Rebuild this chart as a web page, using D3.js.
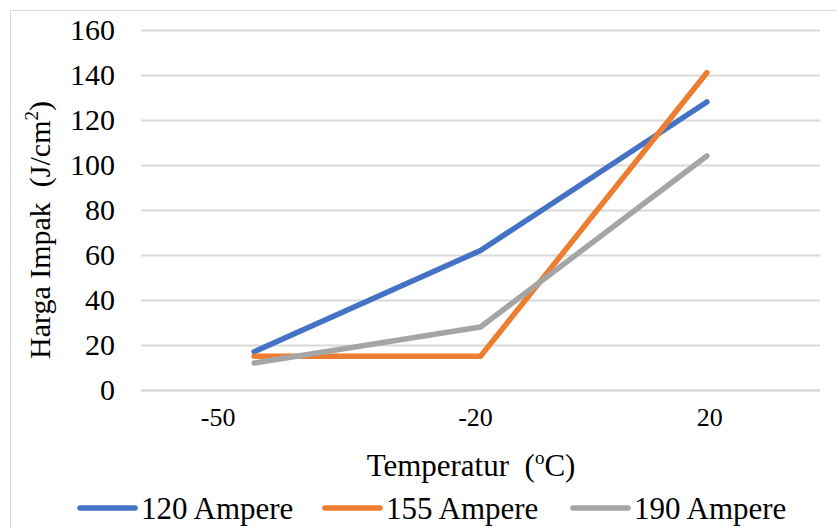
<!DOCTYPE html>
<html>
<head>
<meta charset="utf-8">
<script src="https://cdn.jsdelivr.net/npm/d3@7"></script>
<style>
  body { margin: 0; background: #fff; }
  text { font-family: "Liberation Serif", "Times New Roman", serif; fill: #000; }
</style>
</head>
<body>
<script>
// data
const categories = ['-50', '-20', '20'];
const seriesNames = ['120 Ampere', '155 Ampere', '190 Ampere'];
const amp120 = [17, 62, 128];
const amp155 = [15, 15, 141];
const amp190 = [12, 28, 104];
const yTicks = [0, 20, 40, 60, 80, 100, 120, 140, 160];
const colors = ['#4472C4', '#ED7D31', '#A5A5A5'];

const allSeries = [amp120, amp155, amp190];

const width = 837, height = 528;
const margin = {top: 30, right: 17, bottom: 138, left: 141};

const svg = d3.select('body').append('svg')
  .attr('width', width)
  .attr('height', height);

// chart border
svg.append('rect')
  .attr('x', 10.5).attr('y', 10.5)
  .attr('width', width).attr('height', height)
  .attr('fill', 'none')
  .attr('stroke', '#d9d9d9')
  .attr('stroke-width', 1);

const xScale = d3.scaleBand()
  .domain(categories)
  .range([margin.left, width - margin.right]);

const yScale = d3.scaleLinear()
  .domain([0, 160])
  .range([height - margin.bottom, margin.top]);

// gridlines + y labels
const yAxis = d3.axisLeft(yScale)
  .tickValues(yTicks)
  .tickSize(-(width - margin.left - margin.right))
  .tickPadding(26);

const gy = svg.append('g')
  .attr('transform', `translate(${margin.left},0)`)
  .call(yAxis);
gy.select('.domain').remove();
gy.selectAll('line').attr('stroke', '#d9d9d9').attr('stroke-width', 2);
gy.selectAll('text')
  .attr('font-size', 30)
  .style('font-family', '"Liberation Serif", serif');

// x axis (labels in the reference sit a little off the points)
const labelShift = [-36, -5, 3];
const xAxis = d3.axisBottom(xScale).tickSize(0).tickPadding(18);
const gx = svg.append('g')
  .attr('transform', `translate(0,${yScale(0)})`)
  .call(xAxis);
gx.select('.domain').attr('stroke', '#d9d9d9').attr('stroke-width', 2);
gx.selectAll('text')
  .attr('font-size', 26)
  .attr('dx', (d, i) => labelShift[i])
  .style('font-family', '"Liberation Serif", serif');

// lines
const line = d3.line()
  .x((d, i) => xScale(categories[i]) + xScale.bandwidth() / 2)
  .y(d => yScale(d));

svg.append('g')
  .selectAll('path')
  .data(allSeries)
  .join('path')
  .attr('d', d => line(d))
  .attr('fill', 'none')
  .attr('stroke', (d, i) => colors[i])
  .attr('stroke-width', 5.5)
  .attr('stroke-linecap', 'round')
  .attr('stroke-linejoin', 'round');

// axis titles (double spaces kept like the original)
const xTitle = svg.append('text')
  .attr('x', 471)
  .attr('y', 476)
  .attr('text-anchor', 'middle')
  .attr('font-size', 31)
  .style('white-space', 'pre');
xTitle.append('tspan').text('Temperatur  (');
xTitle.append('tspan').attr('font-size', 19).attr('dy', -12).text('o');
xTitle.append('tspan').attr('dy', 12).text('C)');

const yTitle = svg.append('text')
  .attr('transform', 'translate(50,230) rotate(-90)')
  .attr('text-anchor', 'middle')
  .attr('font-size', 30)
  .style('white-space', 'pre');
yTitle.append('tspan').text('Harga Impak  (J/cm');
yTitle.append('tspan').attr('font-size', 19).attr('dy', -12).text('2');
yTitle.append('tspan').attr('dy', 12).text(')');

// legend
const legendX = [80, 325, 573];
const legend = svg.append('g')
  .selectAll('g')
  .data(seriesNames)
  .join('g')
  .attr('transform', (d, i) => `translate(${legendX[i]},508)`);

legend.append('line')
  .attr('x1', 0).attr('x2', 55)
  .attr('stroke', (d, i) => colors[i])
  .attr('stroke-width', 5.5)
  .attr('stroke-linecap', 'round');

legend.append('text')
  .attr('x', 61)
  .attr('dy', '0.35em')
  .attr('font-size', 31)
  .text(d => d);
</script>
</body>
</html>
